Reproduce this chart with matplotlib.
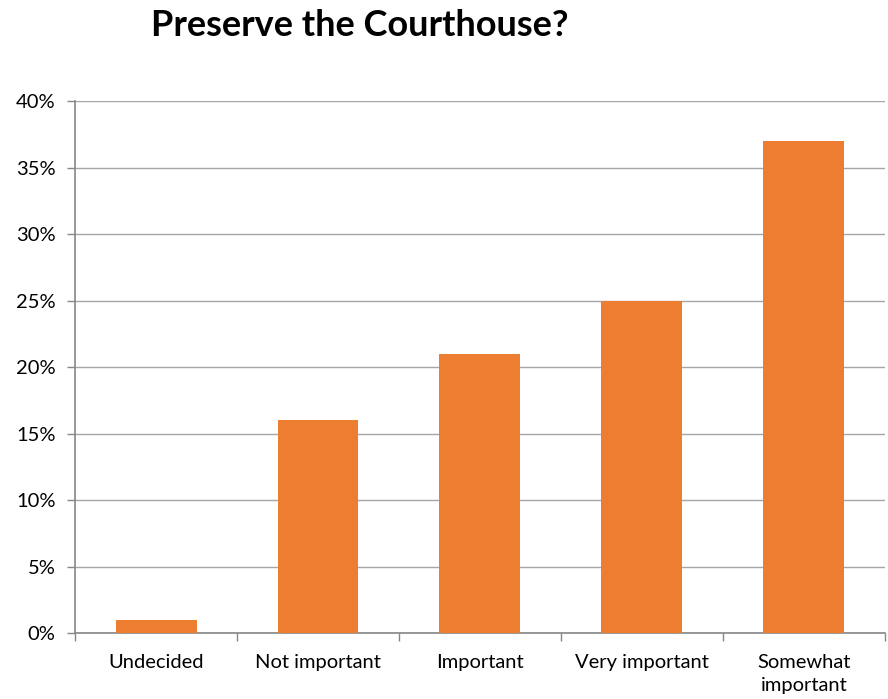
import matplotlib.pyplot as plt
from matplotlib.ticker import PercentFormatter

plt.rcParams['font.family'] = ['Lato', 'DejaVu Sans']

categories = ["Undecided", "Not important", "Important", "Very important", "Somewhat\nimportant"]
values = [1, 16, 21, 25, 37]
yticks = [0, 5, 10, 15, 20, 25, 30, 35, 40]

fig = plt.figure(figsize=(8.88, 6.99), dpi=100)
ax = fig.add_axes([0.0845, 0.0944, 0.912, 0.7611])

x = list(range(len(categories)))
ax.bar(x, values, width=0.5, color="#ED7D31", zorder=3)

ax.set_xlim(-0.5, len(categories) - 0.5)
ax.set_ylim(0, 40)
ax.set_yticks(yticks)
ax.yaxis.set_major_formatter(PercentFormatter(decimals=0))
ax.grid(axis="y", color="#A6A6A6", linewidth=1, zorder=0)

# category labels in the middle, tick marks on the boundaries
ax.set_xticks(x)
ax.set_xticklabels(categories, fontsize=14.5, linespacing=1.45)
ax.set_xticks([i - 0.5 for i in range(len(categories) + 1)], minor=True)
ax.tick_params(axis="x", which="major", length=0, pad=15)
ax.tick_params(axis="x", which="minor", length=6, color="#868686", width=1)
ax.tick_params(axis="y", length=6, color="#868686", width=1, labelsize=14.5, pad=8)

for s in ["top", "right"]:
    ax.spines[s].set_visible(False)
for s in ["left", "bottom"]:
    ax.spines[s].set_color("#868686")
    ax.spines[s].set_linewidth(1.2)

fig.text(0.405, 0.963, "Preserve the Courthouse?", fontsize=26, fontweight="bold",
         ha="center", va="center")

plt.savefig("out.png", dpi=100)
